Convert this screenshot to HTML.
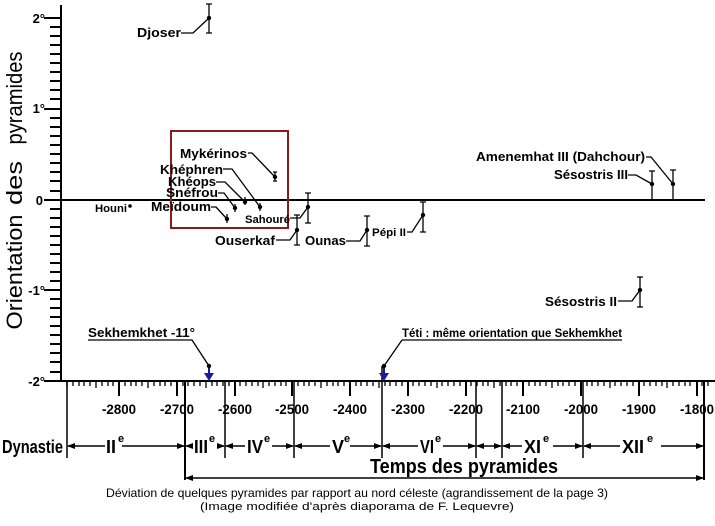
<!DOCTYPE html>
<html><head><meta charset="utf-8"><style>
html,body{margin:0;padding:0;background:#fff;}
svg{display:block;}
text{font-family:"Liberation Sans",sans-serif;}
.b{font-weight:bold;}
</style></head><body>
<svg width="715" height="526" viewBox="0 0 715 526" xmlns="http://www.w3.org/2000/svg">
<defs>
<marker id="ar" markerWidth="8" markerHeight="8" refX="7" refY="4" orient="auto" markerUnits="userSpaceOnUse"><path d="M0,1 L8,4 L0,7 Z" fill="#000"/></marker>
<marker id="al" markerWidth="8" markerHeight="8" refX="1" refY="4" orient="auto" markerUnits="userSpaceOnUse"><path d="M8,1 L0,4 L8,7 Z" fill="#000"/></marker>
</defs>
<g stroke="#000" fill="none">
<!-- y axis -->
<line x1="61" y1="5" x2="61" y2="382" stroke-width="2"/>
<path id="yt" d="" />
</g>
<g stroke="#000" stroke-width="2">
<line x1="44" y1="18" x2="61" y2="18"/><line x1="44" y1="109" x2="61" y2="109"/><line x1="44" y1="200" x2="61" y2="200"/><line x1="44" y1="290" x2="61" y2="290"/><line x1="44" y1="381" x2="61" y2="381"/>
<line x1="50" y1="27" x2="61" y2="27"/><line x1="50" y1="36" x2="61" y2="36"/><line x1="50" y1="45" x2="61" y2="45"/><line x1="50" y1="54" x2="61" y2="54"/><line x1="50" y1="63" x2="61" y2="63"/><line x1="50" y1="72" x2="61" y2="72"/><line x1="50" y1="81" x2="61" y2="81"/><line x1="50" y1="90" x2="61" y2="90"/><line x1="50" y1="99" x2="61" y2="99"/>
<line x1="50" y1="118" x2="61" y2="118"/><line x1="50" y1="127" x2="61" y2="127"/><line x1="50" y1="136" x2="61" y2="136"/><line x1="50" y1="145" x2="61" y2="145"/><line x1="50" y1="154" x2="61" y2="154"/><line x1="50" y1="163" x2="61" y2="163"/><line x1="50" y1="172" x2="61" y2="172"/><line x1="50" y1="181" x2="61" y2="181"/><line x1="50" y1="191" x2="61" y2="191"/>
<line x1="50" y1="209" x2="61" y2="209"/><line x1="50" y1="218" x2="61" y2="218"/><line x1="50" y1="227" x2="61" y2="227"/><line x1="50" y1="236" x2="61" y2="236"/><line x1="50" y1="245" x2="61" y2="245"/><line x1="50" y1="254" x2="61" y2="254"/><line x1="50" y1="263" x2="61" y2="263"/><line x1="50" y1="272" x2="61" y2="272"/><line x1="50" y1="281" x2="61" y2="281"/>
<line x1="50" y1="299" x2="61" y2="299"/><line x1="50" y1="308" x2="61" y2="308"/><line x1="50" y1="317" x2="61" y2="317"/><line x1="50" y1="326" x2="61" y2="326"/><line x1="50" y1="335" x2="61" y2="335"/><line x1="50" y1="344" x2="61" y2="344"/><line x1="50" y1="353" x2="61" y2="353"/><line x1="50" y1="362" x2="61" y2="362"/><line x1="50" y1="372" x2="61" y2="372"/>
<!-- zero line and x axis -->
<line x1="61" y1="200" x2="705" y2="200"/>
<line x1="44" y1="381" x2="715" y2="381"/>
</g>
<g stroke="#000" stroke-width="1.5" id="xt">
<script>/*placeholder*/</script>
</g>
<g stroke="#000" stroke-width="1.3">
<!-- minor ticks every 10 years from -2890 to -1780 : x = 119 + (y+2800)*0.577 -->
<path d="M67,381v6 M73,381v5 M79,381v5 M84,381v5 M90,381v5 M96,381v7 M102,381v5 M108,381v5 M113,381v5 M125,381v5 M131,381v5 M136,381v5 M142,381v5 M148,381v7 M154,381v5 M160,381v5 M165,381v5 M171,381v5 M183,381v5 M188,381v5 M194,381v5 M200,381v5 M206,381v7 M212,381v5 M217,381v5 M223,381v5 M229,381v5 M240,381v5 M246,381v5 M252,381v5 M258,381v5 M263,381v7 M269,381v5 M275,381v5 M281,381v5 M286,381v5 M298,381v5 M304,381v5 M309,381v5 M315,381v5 M321,381v7 M327,381v5 M333,381v5 M338,381v5 M344,381v5 M356,381v5 M361,381v5 M367,381v5 M373,381v5 M379,381v7 M385,381v5 M390,381v5 M396,381v5 M402,381v5 M413,381v5 M419,381v5 M425,381v5 M431,381v5 M437,381v7 M442,381v5 M448,381v5 M454,381v5 M460,381v5 M471,381v5 M477,381v5 M483,381v5 M488,381v5 M494,381v7 M500,381v5 M506,381v5 M511,381v5 M517,381v5 M529,381v5 M535,381v5 M540,381v5 M546,381v5 M552,381v7 M558,381v5 M563,381v5 M569,381v5 M575,381v5 M587,381v5 M592,381v5 M598,381v5 M604,381v5 M610,381v7 M615,381v5 M621,381v5 M627,381v5 M633,381v5 M644,381v5 M650,381v5 M656,381v5 M662,381v5 M667,381v7 M673,381v5 M679,381v5 M685,381v5 M690,381v5 M702,381v5 M708,381v5"/>
</g>
<g stroke="#000" stroke-width="2">
<path d="M119,381v15 M177,381v15 M235,381v15 M292,381v15 M350,381v15 M408,381v15 M466,381v15 M523,381v15 M581,381v15 M639,381v15 M697,381v15"/>
</g>
<!-- dynasty verticals -->
<g stroke="#000" stroke-width="1.5">
<line x1="67" y1="381" x2="67" y2="458"/>
<line x1="185" y1="381" x2="185" y2="480" stroke-width="2"/>
<line x1="225" y1="381" x2="225" y2="458"/>
<line x1="294" y1="381" x2="294" y2="458"/>
<line x1="382" y1="366" x2="382" y2="458"/>
<line x1="476" y1="381" x2="476" y2="458"/>
<line x1="502" y1="381" x2="502" y2="458"/>
<line x1="583" y1="381" x2="583" y2="458"/>
<line x1="704" y1="381" x2="704" y2="480" stroke-width="2"/>
</g>
<!-- dynasty arrows -->
<g stroke="#000" stroke-width="1.5">
<line x1="68" y1="446" x2="105" y2="446" marker-start="url(#al)"/>
<line x1="122" y1="446" x2="184" y2="446" marker-end="url(#ar)"/>
<line x1="186" y1="446" x2="192" y2="446" marker-start="url(#al)"/>
<line x1="217" y1="446" x2="224" y2="446" marker-end="url(#ar)"/>
<line x1="226" y1="446" x2="245" y2="446" marker-start="url(#al)"/>
<line x1="272" y1="446" x2="293" y2="446" marker-end="url(#ar)"/>
<line x1="295" y1="446" x2="330" y2="446" marker-start="url(#al)"/>
<line x1="350" y1="446" x2="381" y2="446" marker-end="url(#ar)"/>
<line x1="383" y1="446" x2="418" y2="446" marker-start="url(#al)"/>
<line x1="443" y1="446" x2="475" y2="446" marker-end="url(#ar)"/>
<line x1="477" y1="446" x2="501" y2="446" marker-start="url(#al)" marker-end="url(#ar)"/>
<line x1="503" y1="446" x2="522" y2="446" marker-start="url(#al)"/>
<line x1="553" y1="446" x2="582" y2="446" marker-end="url(#ar)"/>
<line x1="584" y1="446" x2="620" y2="446" marker-start="url(#al)"/>
<line x1="661" y1="446" x2="703" y2="446" marker-end="url(#ar)"/>
<line x1="186" y1="478" x2="703" y2="478" marker-start="url(#al)" marker-end="url(#ar)"/>
</g>
<!-- year labels -->
<g class="b" font-size="14" text-anchor="middle" fill="#000">
<text x="119" y="414" textLength="34" lengthAdjust="spacingAndGlyphs">-2800</text>
<text x="177" y="414" textLength="34" lengthAdjust="spacingAndGlyphs">-2700</text>
<text x="235" y="414" textLength="34" lengthAdjust="spacingAndGlyphs">-2600</text>
<text x="292" y="414" textLength="34" lengthAdjust="spacingAndGlyphs">-2500</text>
<text x="350" y="414" textLength="34" lengthAdjust="spacingAndGlyphs">-2400</text>
<text x="408" y="414" textLength="34" lengthAdjust="spacingAndGlyphs">-2300</text>
<text x="466" y="414" textLength="34" lengthAdjust="spacingAndGlyphs">-2200</text>
<text x="523" y="414" textLength="34" lengthAdjust="spacingAndGlyphs">-2100</text>
<text x="581" y="414" textLength="34" lengthAdjust="spacingAndGlyphs">-2000</text>
<text x="639" y="414" textLength="34" lengthAdjust="spacingAndGlyphs">-1900</text>
<text x="697" y="414" textLength="34" lengthAdjust="spacingAndGlyphs">-1800</text>
</g>
<!-- dynasty labels -->
<g class="b" font-size="18" fill="#000">
<text x="2" y="453" textLength="61" lengthAdjust="spacingAndGlyphs">Dynastie</text>
<text x="106" y="453">II</text><text x="118" y="442" font-size="11">e</text>
<text x="194" y="453" textLength="14" lengthAdjust="spacingAndGlyphs">III</text><text x="209" y="442" font-size="11">e</text>
<text x="247" y="453" textLength="16" lengthAdjust="spacingAndGlyphs">IV</text><text x="264" y="442" font-size="11">e</text>
<text x="332" y="453">V</text><text x="344" y="442" font-size="11">e</text>
<text x="420" y="453" textLength="14" lengthAdjust="spacingAndGlyphs">VI</text><text x="435" y="442" font-size="11">e</text>
<text x="524" y="453" textLength="17" lengthAdjust="spacingAndGlyphs">XI</text><text x="543" y="442" font-size="11">e</text>
<text x="622" y="453" textLength="22" lengthAdjust="spacingAndGlyphs">XII</text><text x="647" y="442" font-size="11">e</text>
<text x="370" y="473" font-size="20" textLength="188" lengthAdjust="spacingAndGlyphs">Temps des pyramides</text>
</g>
<g font-size="12" text-anchor="middle" fill="#000">
<text x="357" y="497" textLength="502" lengthAdjust="spacingAndGlyphs">Déviation de quelques pyramides par rapport au nord céleste (agrandissement de la page 3)</text>
<text x="357" y="510" font-size="11" textLength="314" lengthAdjust="spacingAndGlyphs">(Image modifiée d'après diaporama de F. Lequevre)</text>
</g>
<!-- y labels -->
<g class="b" font-size="13" fill="#000" text-anchor="end">
<text x="45" y="23">2°</text><text x="45" y="113">1°</text><text x="43" y="205">0</text><text x="45" y="295">-1°</text><text x="45" y="386">-2°</text>
</g>
<g font-size="22" fill="#000" text-anchor="middle">
<text transform="translate(22,98) rotate(-90)" textLength="93" lengthAdjust="spacingAndGlyphs">pyramides</text>
<text transform="translate(22,183) rotate(-90)" textLength="44" lengthAdjust="spacingAndGlyphs">des</text>
<text transform="translate(22,272) rotate(-90)" textLength="115" lengthAdjust="spacingAndGlyphs">Orientation</text>
</g>
<!-- red box -->
<rect x="171" y="131" width="117" height="97" fill="none" stroke="#8b1a1a" stroke-width="2"/>
<!-- error bars -->
<g stroke="#000" stroke-width="1.3" fill="none">
<path d="M209,4v29 M206,4h6 M206,33h6"/>
<path d="M275,172v9 M273,172h4 M273,181h4"/>
<path d="M260,203v8"/><path d="M245,197v8"/><path d="M235,204v8"/><path d="M227,214v9"/>
<path d="M308,193v30 M305,193h6 M305,223h6"/>
<path d="M297,215v30 M294,215h6 M294,245h6"/>
<path d="M367,216v30 M364,216h6 M364,246h6"/>
<path d="M423,202v30 M420,202h6 M420,232h6"/>
<path d="M652,171v29 M649,171h6 M649,200h6"/>
<path d="M673,170v30 M670,170h6 M670,200h6"/>
<path d="M640,277v30 M637,277h6 M637,307h6"/>
<!-- leaders -->
<path d="M181,33h12l16,-15"/>
<path d="M248,153h4l23,24"/>
<path d="M223,169h9l28,38"/>
<path d="M216,182h9l20,20"/>
<path d="M218,193h6l11,15"/>
<path d="M211,207h5l11,12"/>
<path d="M290,218h10l8,-11"/>
<path d="M276,240h14l7,-10"/>
<path d="M346,241h14l7,-11"/>
<path d="M407,232h5l11,-17"/>
<path d="M628,175h8l16,9"/>
<path d="M646,157h5l22,27"/>
<path d="M618,301h14l8,-11"/>
<path d="M88,340h104l17,26"/>
<path d="M402,340h220 M402,340l-18,26"/>
<line x1="209" y1="366" x2="209" y2="374" stroke="#1a1aa0" stroke-width="2"/>
<line x1="384" y1="366" x2="384" y2="374" stroke="#1a1aa0" stroke-width="2"/>
</g>
<path d="M204,373h10l-5,8z M379,373h10l-5,8z" fill="#1a1aa0"/>
<g fill="#000">
<circle cx="209" cy="18" r="2.2"/><circle cx="275" cy="177" r="2.2"/><circle cx="260" cy="207" r="2.2"/><circle cx="245" cy="202" r="2.2"/><circle cx="235" cy="208" r="2.2"/><circle cx="227" cy="219" r="2.2"/><circle cx="308" cy="207" r="2.2"/><circle cx="297" cy="230" r="2.2"/><circle cx="367" cy="230" r="2.2"/><circle cx="423" cy="215" r="2.2"/><circle cx="652" cy="184" r="2.2"/><circle cx="673" cy="184" r="2.2"/><circle cx="640" cy="290" r="2.2"/><circle cx="209" cy="366" r="2.2"/><circle cx="384" cy="366" r="2.2"/><circle cx="130" cy="206" r="1.8"/>
</g>
<!-- point labels -->
<g class="b" font-size="13" fill="#000">
<text x="137" y="37" textLength="44" lengthAdjust="spacingAndGlyphs">Djoser</text>
<text x="95" y="212" font-size="11" textLength="32" lengthAdjust="spacingAndGlyphs">Houni</text>
<text x="180" y="158" textLength="67" lengthAdjust="spacingAndGlyphs">Mykérinos</text>
<text x="160" y="174" textLength="63" lengthAdjust="spacingAndGlyphs">Khéphren</text>
<text x="168" y="186" textLength="48" lengthAdjust="spacingAndGlyphs">Khéops</text>
<text x="166" y="197" textLength="52" lengthAdjust="spacingAndGlyphs">Snéfrou</text>
<text x="151" y="211" textLength="60" lengthAdjust="spacingAndGlyphs">Meïdoum</text>
<text x="245" y="223" font-size="11" textLength="45" lengthAdjust="spacingAndGlyphs">Sahouré</text>
<text x="215" y="245" textLength="60" lengthAdjust="spacingAndGlyphs">Ouserkaf</text>
<text x="305" y="245" textLength="41" lengthAdjust="spacingAndGlyphs">Ounas</text>
<text x="372" y="236" font-size="11" textLength="34" lengthAdjust="spacingAndGlyphs">Pépi II</text>
<text x="476" y="161" textLength="169" lengthAdjust="spacingAndGlyphs">Amenemhat III (Dahchour)</text>
<text x="554" y="179" textLength="74" lengthAdjust="spacingAndGlyphs">Sésostris III</text>
<text x="545" y="306" textLength="72" lengthAdjust="spacingAndGlyphs">Sésostris II</text>
<text x="88" y="337" textLength="107" lengthAdjust="spacingAndGlyphs">Sekhemkhet -11°</text>
<text x="402" y="337" font-size="12" textLength="220" lengthAdjust="spacingAndGlyphs">Téti : même orientation que Sekhemkhet</text>
</g>
</svg>
</body></html>
